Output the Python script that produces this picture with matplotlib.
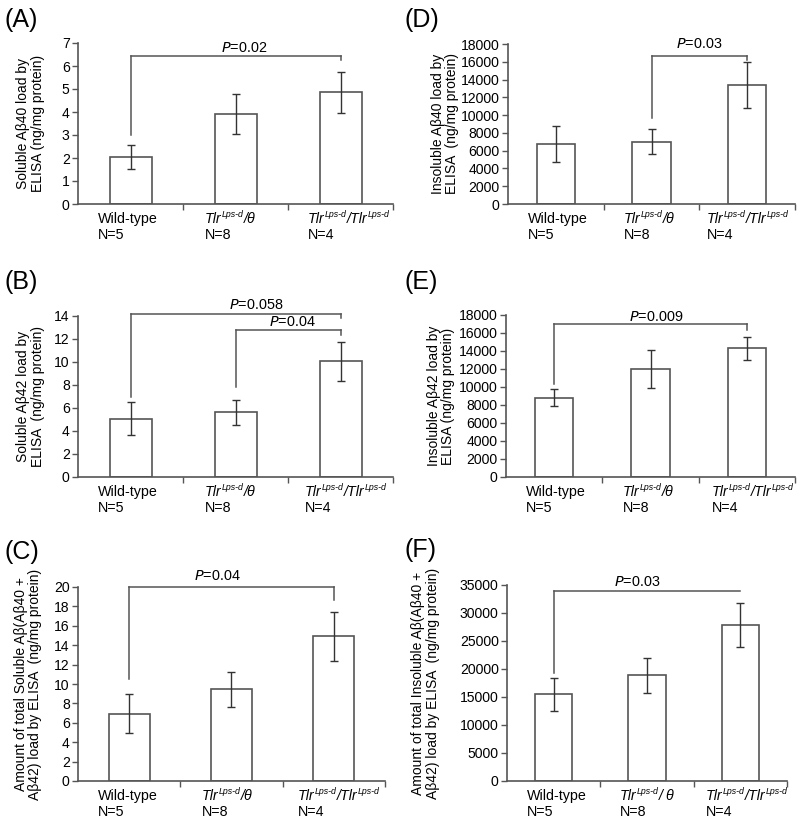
import matplotlib
matplotlib.use("Agg")
import matplotlib.pyplot as plt
from matplotlib.transforms import blended_transform_factory

plt.rcParams['font.family'] = ['Liberation Sans', 'DejaVu Sans']

groups = ['Wild-type', 'het', 'homo']
group_n = ['N=5', 'N=8', 'N=4']

# Panel values (mean, error)
a_mean = [2.05, 3.92, 4.85]
a_err = [0.53, 0.87, 0.90]
b_mean = [5.05, 5.63, 10.07]
b_err = [1.43, 1.08, 1.70]
c_mean = [6.94, 9.48, 14.91]
c_err = [2.0, 1.8, 2.5]
d_mean = [6730, 7030, 13420]
d_err = [2030, 1390, 2600]
e_mean = [8830, 11990, 14290]
e_err = [900, 2080, 1300]
f_mean = [15470, 18880, 27840]
f_err = [2900, 3100, 4000]

# brackets: (i, j, y, left_leg_end, right_leg_end, label, label_x, label_y)
a_br = [(0, 2, 6.42, 3.0, 6.27, '$P$=0.02', 1.08, 6.8)]
b_br = [(0, 2, 14.2, 6.97, 13.79, '$P$=0.058', 1.20, 14.95),
        (1, 2, 12.77, 7.84, 12.34, '$P$=0.04', 1.54, 13.5)]
c_br = [(0, 2, 20.0, 10.55, 18.62, '$P$=0.04', 0.86, 21.1)]
d_br = [(1, 2, 16690, 9660, 16240, '$P$=0.03', 1.5, 18000)]
e_br = [(0, 2, 16960, 10320, 16330, '$P$=0.009', 1.06, 17800)]
f_br = [(0, 2, 33870, 19240, None, '$P$=0.03', 0.89, 35600)]

fig = plt.figure(figsize=(8, 8.25), dpi=100)
W, H = 800, 825
gray = '#555555'
FS = 10.3
SUP = 6.3

def add_ax(l, r, t, b):
    return fig.add_axes([l / W, 1 - b / H, (r - l) / W, (b - t) / H])

def group_label(ax, tr, x, kind, gap):
    if kind == 'Wild-type':
        ax.annotate('Wild-type', xy=(x, 0), xycoords=tr, xytext=(0, -6), textcoords='offset points',
                    ha='left', va='top', fontsize=FS)
        return
    t1 = ax.annotate('Tlr', xy=(x, 0), xycoords=tr, xytext=(0, -6), textcoords='offset points',
                     ha='left', va='top', fontsize=FS, style='italic')
    t2 = ax.annotate('Lps-d', xy=(1, 1), xycoords=t1, xytext=(0.3, 1.5), textcoords='offset points',
                     ha='left', va='top', fontsize=SUP, style='italic')
    if kind == 'het':
        ax.annotate('/' + gap + '\u03b8', xy=(1, 0), xycoords=(t2, t1), ha='left', va='bottom',
                    fontsize=FS, style='italic')
    else:
        t3 = ax.annotate('/Tlr', xy=(1, 0), xycoords=(t2, t1), ha='left', va='bottom',
                         fontsize=FS, style='italic')
        ax.annotate('Lps-d', xy=(1, 1), xycoords=t3, xytext=(0.3, 1.5), textcoords='offset points',
                    ha='left', va='top', fontsize=SUP, style='italic')

def panel(ax, means, errs, ymax, ystep, ylabel, brackets, letter, lpos, ylabx, offs, gap=''):
    x = list(range(3))
    ax.bar(x, means, width=0.4, color='white', edgecolor=gray, linewidth=1.2, zorder=2)
    ax.errorbar(x, means, yerr=errs, fmt='none', ecolor='#333333', elinewidth=1.0,
                capsize=3, capthick=1.0, zorder=3)
    ax.set_xlim(-0.5, 2.5)
    ax.set_ylim(0, ymax)
    ticks = [i * ystep for i in range(int(round(ymax / ystep)) + 1)]
    ax.set_yticks(ticks)
    ax.set_yticklabels([str(t) for t in ticks], fontsize=10.1)
    ax.set_xticks([0.5, 1.5, 2.5])
    ax.set_xticklabels([])
    ax.tick_params(axis='both', direction='out', length=4, width=1, color=gray, pad=2)
    for s in ['top', 'right']:
        ax.spines[s].set_visible(False)
    for s in ['left', 'bottom']:
        ax.spines[s].set_color(gray)
        ax.spines[s].set_linewidth(1.2)
    ax.set_ylabel(ylabel, fontsize=10, linespacing=1.05)
    ax.yaxis.set_label_coords(ylabx, 0.5)
    tr = blended_transform_factory(ax.transData, ax.transAxes)
    for i in range(3):
        group_label(ax, tr, i - offs[i], groups[i], gap)
        ax.annotate(group_n[i], xy=(i - offs[i], 0), xycoords=tr, xytext=(0, -17.5),
                    textcoords='offset points', ha='left', va='top', fontsize=FS)
    for (i, j, y, l1, l2, lab, tx, ty) in brackets:
        ax.plot([i, j], [y, y], color=gray, lw=1.1, clip_on=False, zorder=4)
        ax.plot([i, i], [y, l1], color=gray, lw=1.1, clip_on=False, zorder=4)
        if l2 is not None:
            ax.plot([j, j], [y, l2], color=gray, lw=1.1, clip_on=False, zorder=4)
        ax.text(tx, ty, lab, ha='center', va='center', fontsize=10.4, clip_on=False)
    fig.text(lpos[0] / W, 1 - lpos[1] / H, letter, fontsize=18, ha='left', va='center')

axA = add_ax(78, 393, 43, 204)
panel(axA, a_mean, a_err, 7, 1, 'Soluble A\u03b240 load by\nELISA (ng/mg protein)', a_br,
      '(A)', (4, 20), -0.105, (0.31, 0.29, 0.31))
axD = add_ax(508, 795, 44, 204)
panel(axD, d_mean, d_err, 18000, 2000, 'Insoluble A\u03b240 load by\nELISA  (ng/mg protein)', d_br,
      '(D)', (405, 20), -0.17, (0.29, 0.29, 0.42))
axB = add_ax(78, 393, 316, 477)
panel(axB, b_mean, b_err, 14, 2, 'Soluble A\u03b242 load by\nELISA  (ng/mg protein)', b_br,
      '(B)', (4, 282), -0.105, (0.31, 0.29, 0.34))
axE = add_ax(506, 795, 315, 477)
panel(axE, e_mean, e_err, 18000, 2000, 'Insoluble A\u03b242 load by\nELISA (ng/mg protein)', e_br,
      '(E)', (405, 282), -0.176, (0.29, 0.29, 0.36))
axC = add_ax(78, 385, 587, 781)
panel(axC, c_mean, c_err, 20, 2,
      'Amount of total Soluble A\u03b2(A\u03b240 +\nA\u03b242) load by ELISA  (ng/mg protein)', c_br,
      '(C)', (4, 552), -0.117, (0.31, 0.29, 0.35))
axF = add_ax(507, 787, 585, 781)
panel(axF, f_mean, f_err, 35000, 5000,
      'Amount of total Insoluble A\u03b2(A\u03b240 +\nA\u03b242) load by ELISA  (ng/mg protein)', f_br,
      '(F)', (405, 550), -0.24, (0.29, 0.29, 0.37), gap=' ')

fig.savefig('out.png', dpi=100, facecolor='white')
